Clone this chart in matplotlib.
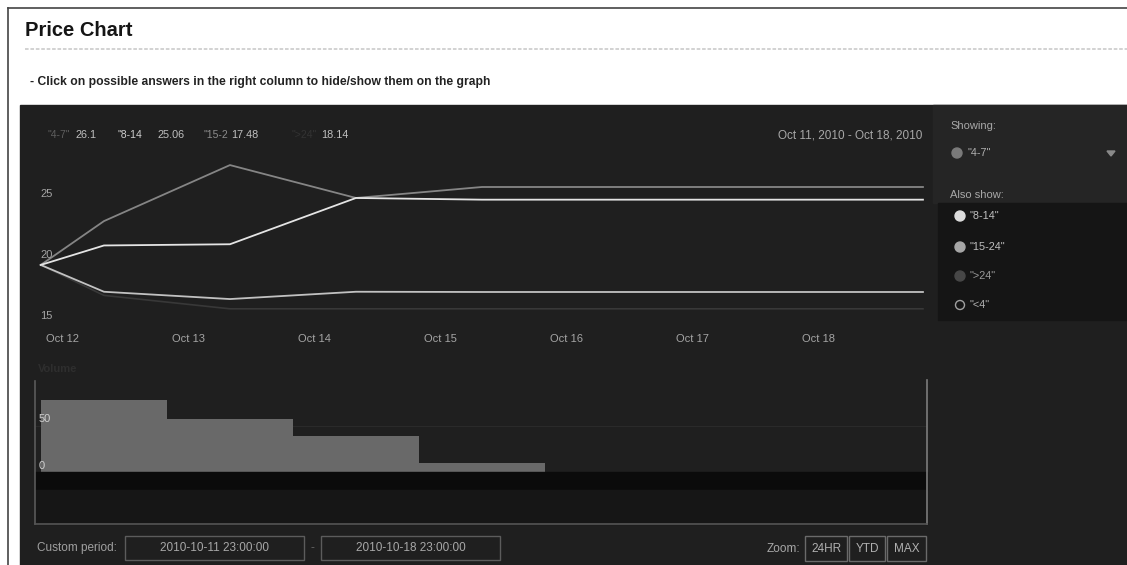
import matplotlib
matplotlib.use('Agg')
import matplotlib.pyplot as plt
from matplotlib.patches import Rectangle, Polygon, Ellipse
from matplotlib.lines import Line2D

plt.rcParams['font.family'] = ['Liberation Sans', 'DejaVu Sans']

# ---------------- data ----------------
# x positions in days after Oct 12 00:00
days = [-1/24, 0.46, 1.46, 2.46, 3.46, 4.46, 5.46, 6.46, 6.96]
s_4_7 = [19.7, 23.3, 27.9, 25.2, 26.1, 26.1, 26.1, 26.1, 26.1]
s_8_14 = [19.7, 21.3, 21.4, 25.2, 25.06, 25.06, 25.06, 25.06, 25.06]
s_15_24 = [19.7, 17.5, 16.9, 17.5, 17.48, 17.48, 17.48, 17.48, 17.48]
s_gt24 = [19.7, 17.2, 16.1, 16.1, 16.1, 16.1, 16.1, 16.1, 16.1]

x_ticks = [0, 1, 2, 3, 4, 5, 6]
x_tick_labels = ['Oct 12', 'Oct 13', 'Oct 14', 'Oct 15', 'Oct 16', 'Oct 17', 'Oct 18']
y_ticks = [25, 20, 15]

vol_starts = [-1/24, 23/24, 47/24, 71/24]
vol_values = [77, 57, 39, 10]
vol_ticks = [50, 0]

head_names = ['"4-7"', '"8-14', '"15-2', '">24"']
head_values = ['26.1', '25.06', '17.48', '18.14']
list_names = ['"8-14"', '"15-24"', '">24"', '"<4"']

# ---------------- layout helpers ----------------
W, H = 1127, 565
fig = plt.figure(figsize=(W / 100, H / 100), dpi=100)
fig.patch.set_facecolor('white')


def fx(x):
    return x / W


def fy(y):
    return 1 - y / H


def prect(x0, y0, x1, y1, **kw):
    fig.add_artist(Rectangle((fx(x0), fy(y1)), fx(x1) - fx(x0), fy(y0) - fy(y1),
                             transform=fig.transFigure, **kw))


def pline(x0, y0, x1, y1, **kw):
    fig.add_artist(Line2D([fx(x0), fx(x1)], [fy(y0), fy(y1)], transform=fig.transFigure, **kw))


def ptext(x, y, s, **kw):
    kw.setdefault('va', 'center')
    fig.text(fx(x), fy(y), s, **kw)


def pcircle(x, y, r, **kw):
    fig.add_artist(Ellipse((fx(x), fy(y)), 2 * r / W, 2 * r / H, transform=fig.transFigure, **kw))


# ---------------- page ----------------
pline(8, 8, 1127, 8, color='#444444', lw=1.2)
pline(8, 8, 8, 565, color='#444444', lw=1.2)
ptext(25, 31, 'Price Chart', fontsize=14.5, fontweight='bold', color='#151515')
pline(25, 49, 1127, 49, color='#cfcfcf', lw=1.3, ls=(0, (2, 1)))
ptext(30, 82, '- Click on possible answers in the right column to hide/show them on the graph',
      fontsize=8.7, fontweight='bold', color='#222222')

# dark panel
prect(20, 105, 1127, 565, color='#1f1f1f', zorder=0)
prect(933, 105, 1127, 203, color='#252525', zorder=0)
prect(938, 203, 1127, 320, color='#151515', zorder=0)

# ---------------- main price chart ----------------
X0, DX = 46, 126            # px of Oct 12, px per day
Y25, PXU = 200.4, 12.18     # px of value 25, px per unit
L, R, T, B = 20, 930, 150, 332
ax = fig.add_axes([fx(L), fy(B), fx(R) - fx(L), fy(T) - fy(B)])
ax.set_facecolor('none')
ax.set_xlim((L - X0) / DX, (R - X0) / DX)
ax.set_ylim(25 - (B - Y25) / PXU, 25 - (T - Y25) / PXU)
for s in ax.spines.values():
    s.set_visible(False)
ax.set_xticks([])
ax.set_yticks([])

ax.plot(days, s_gt24, color='#383838', lw=1.2, solid_joinstyle='round')
ax.plot(days, s_15_24, color='#c2c2c2', lw=1.3, solid_joinstyle='round')
ax.plot(days, s_4_7, color='#858585', lw=1.3, solid_joinstyle='round')
ax.plot(days, s_8_14, color='#e4e4e4', lw=1.3, solid_joinstyle='round')

for v in y_ticks:
    ax.annotate(str(v), xy=(0, v), xycoords=('axes fraction', 'data'),
                xytext=(20, 6), textcoords='offset pixels',
                ha='left', va='center', fontsize=8, color='#a5a5a5')
for d, lab in zip(x_ticks, x_tick_labels):
    ax.annotate(lab, xy=(d, 0), xycoords=('data', 'axes fraction'),
                xytext=(0, -7), textcoords='offset pixels',
                ha='left', va='center', fontsize=8, color='#a5a5a5')

# header legend row
head_x = [47, 118, 204, 291]
val_x = [75, 157, 231, 321]
name_cols = ['#5e5e5e', '#cfcfcf', '#8c8c8c', '#333333']
for nx, vx, n, v, c in zip(head_x, val_x, head_names, head_values, name_cols):
    ptext(nx, 135, n, fontsize=7.5, color=c)
    ptext(vx, 135, v, fontsize=7.8, color='#c0c0c0')
ptext(922, 135, 'Oct 11, 2010 - Oct 18, 2010', fontsize=8.5, color='#a8a8a8', ha='right')

# ---------------- right column legend ----------------
ptext(950, 126, 'Showing:', fontsize=8, color='#a8a8a8')
pcircle(957, 153, 5, color='#7a7a7a')
ptext(967, 153, '"4-7"', fontsize=7.8, color='#b0b0b0')
fig.add_artist(Polygon([[fx(1107), fy(151)], [fx(1115), fy(151)], [fx(1111), fy(156)]],
                       closed=True, transform=fig.transFigure, color='#8a8a8a'))
ptext(950, 195, 'Also show:', fontsize=8, color='#a8a8a8')
list_y = [216, 247, 276, 305]
list_fill = ['#dcdcdc', '#a6a6a6', '#474747', None]
list_txt = ['#c0c0c0', '#c0c0c0', '#9a9a9a', '#b0b0b0']
for ly, n, fc, tc in zip(list_y, list_names, list_fill, list_txt):
    if fc is None:
        pcircle(960, ly, 4.5, facecolor='none', edgecolor='#a0a0a0', lw=1)
    else:
        pcircle(960, ly, 5, color=fc)
    ptext(970, ly, n, fontsize=7.8, color=tc)

# ---------------- volume chart ----------------
VB, VPX = 472, 0.93         # baseline px, px per volume unit
vL, vR, vT = 35, 927, 381
prect(vL, VB, vR, 490, color='#0b0b0b', zorder=1)
prect(vL, 490, vR, 524, color='#161616', zorder=1)
vax = fig.add_axes([fx(vL), fy(VB), fx(vR) - fx(vL), fy(vT) - fy(VB)])
vax.set_facecolor('none')
vax.set_xlim((vL - X0) / DX, (vR - X0) / DX)
vax.set_ylim(0, (VB - vT) / VPX)
for s in vax.spines.values():
    s.set_visible(False)
vax.set_xticks([])
vax.set_yticks([])
vax.axhline(50, color='#2a2a2a', lw=0.8, zorder=0)
vax.bar(vol_starts, vol_values, width=1, align='edge', color='#696969', linewidth=0, zorder=1)
for v in vol_ticks:
    vax.annotate(str(v), xy=(0, v), xycoords=('axes fraction', 'data'),
                 xytext=(4, 6), textcoords='offset pixels',
                 ha='left', va='center', fontsize=8, color='#d0d0d0', zorder=3)
ptext(38, 369, 'Volume', fontsize=8, fontweight='bold', color='#2e2e2e')
pline(vL, vT, vL, 524, color='#5a5a5a', lw=1.2)
pline(vR, vT - 1, vR, 524, color='#7c7c7c', lw=1.2)
pline(vL, 524, vR, 524, color='#555555', lw=1.2)

# ---------------- bottom controls ----------------
ptext(37, 548, 'Custom period:', fontsize=8.5, color='#a0a0a0')
prect(125, 536, 304, 560, facecolor='none', edgecolor='#5c5c5c', lw=1)
ptext(214.5, 548, '2010-10-11 23:00:00', fontsize=8.5, color='#a8a8a8', ha='center')
ptext(312, 548, '-', fontsize=8.5, color='#666666', ha='center')
prect(321, 536, 500, 560, facecolor='none', edgecolor='#5c5c5c', lw=1)
ptext(410.5, 548, '2010-10-18 23:00:00', fontsize=8.5, color='#a8a8a8', ha='center')

ptext(800, 549, 'Zoom:', fontsize=8.5, color='#a8a8a8', ha='right')
zoom_boxes = [(805, 847, '24HR'), (849, 885, 'YTD'), (887, 926, 'MAX')]
for x0, x1, lab in zoom_boxes:
    prect(x0, 536, x1, 561, facecolor='none', edgecolor='#6a6a6a', lw=1)
    ptext((x0 + x1) / 2, 548.5, lab, fontsize=8.5, color='#b0b0b0', ha='center')

fig.savefig('out.png', dpi=100)
